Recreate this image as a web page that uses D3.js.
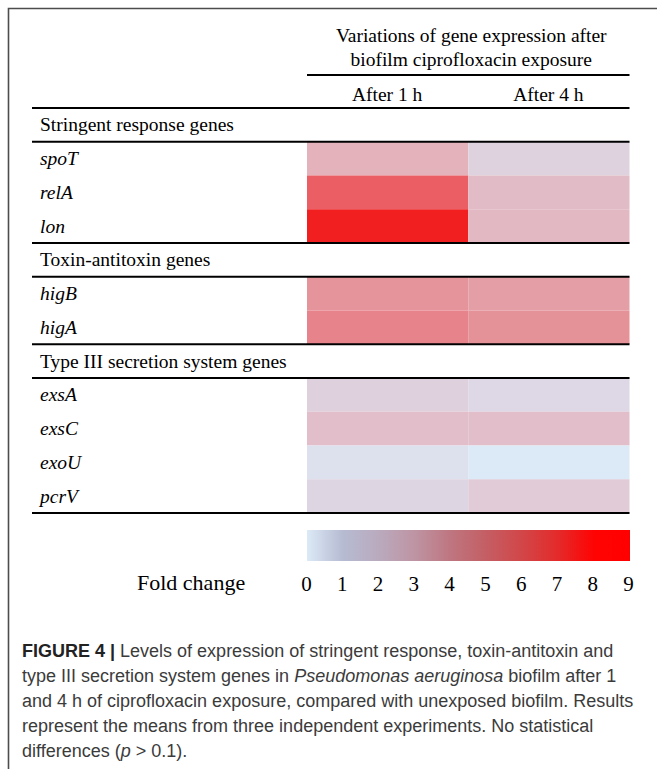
<!DOCTYPE html>
<html>
<head>
<meta charset="utf-8">
<script src="https://cdn.jsdelivr.net/npm/d3@7"></script>
<style>
html,body{margin:0;padding:0;background:#fff;}
svg{display:block;}
</style>
</head>
<body>
<svg id="chart" width="657" height="769"></svg>
<script>
// ---------------- data ----------------
const groups = ["Stringent response genes", "Toxin-antitoxin genes", "Type III secretion system genes"];
const genes = ["spoT", "relA", "lon", "higB", "higA", "exsA", "exsC", "exoU", "pcrV"];
const geneGroup = [0, 0, 0, 1, 1, 2, 2, 2, 2];
const timepoints = ["After 1 h", "After 4 h"];
const after1h = [2.5, 6.0, 8.5, 3.6, 4.2, 1.3, 2.0, 0.6, 1.1];
const after4h = [1.2, 2.1, 2.2, 3.2, 3.7, 1.0, 2.0, 0.2, 1.5];
const foldTicks = [0, 1, 2, 3, 4, 5, 6, 7, 8, 9];
const headerLines = ["Variations of gene expression after", "biofilm ciprofloxacin exposure"];
const legendTitle = "Fold change";

// ---------------- setup ----------------
const svg = d3.select("#chart");
const serif = "'Liberation Serif', 'Times New Roman', serif";
const sans = "'Liberation Sans', Arial, sans-serif";

// frame
svg.append("path")
  .attr("d", "M8.5,769 L8.5,8.5 L657,8.5")
  .attr("fill", "none").attr("stroke", "#4d4d4d").attr("stroke-width", 1.6);

// rows: group headers and gene rows interleaved
const items = [];
groups.forEach((g, gi) => {
  items.push({type: "group", key: "g" + gi, label: g});
  genes.forEach((gn, i) => {
    if (geneGroup[i] === gi) items.push({type: "gene", key: gn, label: gn, v: [after1h[i], after4h[i]]});
  });
});

const y = d3.scaleBand().domain(items.map(d => d.key)).range([108, 513]).padding(0);
const x = d3.scaleBand().domain(timepoints).range([307, 629.5]).padding(0);

// cell colour scale (as rendered in the table)
const cellColor = d3.scaleLinear()
  .domain([0, 1, 2, 3, 4, 6, 9])
  .range(["rgb(220,238,250)", "rgb(222,215,229)", "rgb(225,190,201)", "rgb(228,165,172)",
          "rgb(230,136,143)", "rgb(235,95,100)", "rgb(242,18,18)"])
  .clamp(true);

// legend colour scale
const barColor = d3.scaleLinear()
  .domain([0, 1, 2, 3, 4, 5, 6, 7, 8, 9])
  .range(["rgb(220,233,246)", "rgb(182,187,210)", "rgb(186,170,190)", "rgb(190,148,163)",
          "rgb(190,118,128)", "rgb(196,94,100)", "rgb(210,70,72)", "rgb(228,42,42)",
          "rgb(255,3,3)", "rgb(255,0,0)"]);

// header text
const cx = (x.range()[0] + x.range()[1]) / 2 + 3;
svg.append("g").selectAll("text").data(headerLines).join("text")
  .attr("x", cx).attr("y", (d, i) => 42 + i * 24)
  .attr("text-anchor", "middle")
  .attr("font-family", serif).attr("font-size", 19.5).attr("fill", "#000")
  .text(d => d);

svg.append("line")
  .attr("x1", x.range()[0]).attr("x2", x.range()[1])
  .attr("y1", 75).attr("y2", 75)
  .attr("stroke", "#000").attr("stroke-width", 2);

svg.append("g").selectAll("text").data(timepoints).join("text")
  .attr("x", d => x(d) + x.bandwidth() / 2 - 0.5).attr("y", 101)
  .attr("text-anchor", "middle")
  .attr("font-family", serif).attr("font-size", 19.5).attr("fill", "#000")
  .text(d => d);

// cells
const geneItems = items.filter(d => d.type === "gene");
const cellG = svg.append("g");
geneItems.forEach(d => {
  cellG.selectAll(null).data(timepoints.map((t, j) => ({t, v: d.v[j]}))).join("rect")
    .attr("x", c => x(c.t)).attr("width", x.bandwidth())
    .attr("y", y(d.key)).attr("height", y.bandwidth())
    .attr("fill", c => cellColor(c.v));
});

// row labels
svg.append("g").selectAll("text").data(items).join("text")
  .attr("x", 40).attr("y", d => y(d.key) + y.bandwidth() / 2 + 6.5)
  .attr("font-family", serif).attr("font-size", 19.5)
  .attr("font-style", d => d.type === "gene" ? "italic" : "normal")
  .attr("fill", "#000")
  .text(d => d.label);

// rules
const ruleYs = [];
items.forEach((d, i) => {
  if (d.type === "group") { ruleYs.push(y(d.key)); ruleYs.push(y(d.key) + y.bandwidth()); }
});
ruleYs.push(y.range()[1]);
svg.append("g").selectAll("line").data(ruleYs).join("line")
  .attr("x1", 32).attr("x2", x.range()[1])
  .attr("y1", d => d).attr("y2", d => d)
  .attr("stroke", "#000").attr("stroke-width", 2);

// legend
const lx = d3.scaleLinear().domain([0, 9]).range([306, 628]);
const grad = svg.append("defs").append("linearGradient").attr("id", "fc")
  .attr("x1", "0%").attr("x2", "100%").attr("y1", "0%").attr("y2", "0%");
grad.selectAll("stop").data(foldTicks).join("stop")
  .attr("offset", d => (d / 9 * 100) + "%")
  .attr("stop-color", d => barColor(d));
svg.append("rect")
  .attr("x", 307).attr("y", 530).attr("width", 323).attr("height", 31)
  .attr("fill", "url(#fc)");

const axisG = svg.append("g").attr("transform", "translate(0,572)")
  .call(d3.axisBottom(lx).tickValues(foldTicks).tickSize(0).tickPadding(0).tickFormat(d3.format("d")));
axisG.select(".domain").remove();
axisG.selectAll("text")
  .attr("font-family", serif).attr("font-size", 21).attr("fill", "#000")
  .attr("dy", "0.9em");

svg.append("text")
  .attr("x", 137).attr("y", 590)
  .attr("font-family", serif).attr("font-size", 22).attr("fill", "#000")
  .text(legendTitle);

// caption
const cap = svg.append("g").attr("font-family", sans).attr("font-size", 18).attr("fill", "#3b3b3b");
const capLines = [
  [{t: "FIGURE 4 | ", b: true}, {t: "Levels of expression of stringent response, toxin-antitoxin and"}],
  [{t: "type III secretion system genes in "}, {t: "Pseudomonas aeruginosa", i: true}, {t: " biofilm after 1"}],
  [{t: "and 4 h of ciprofloxacin exposure, compared with unexposed biofilm. Results"}],
  [{t: "represent the means from three independent experiments. No statistical"}],
  [{t: "differences ("}, {t: "p", i: true}, {t: " > 0.1)."}]
];
capLines.forEach((ln, i) => {
  const t = cap.append("text").attr("x", 22).attr("y", 657 + i * 25);
  ln.forEach(s => {
    t.append("tspan")
      .attr("font-weight", s.b ? "bold" : null)
      .attr("font-style", s.i ? "italic" : null)
      .attr("fill", s.b ? "#222" : null)
      .text(s.t);
  });
});
</script>
</body>
</html>
